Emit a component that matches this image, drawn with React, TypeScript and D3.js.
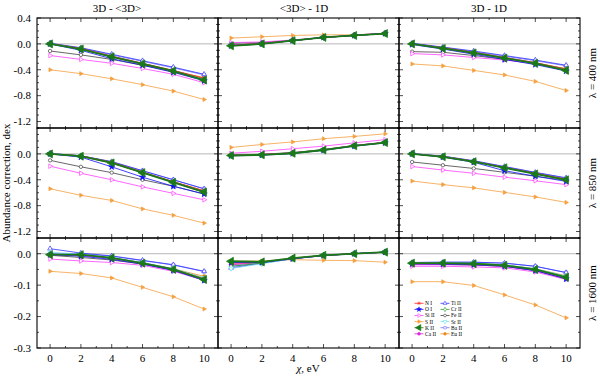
import React from 'react';
import * as d3 from 'd3';

const W = 600;
const H = 379;

// chi, eV
const chi = [0, 2, 4, 6, 8, 10];
const xTicks = [0, 2, 4, 6, 8, 10];
const colTitles = ['3D - <3D>', '<3D> - 1D', '3D - 1D'];
const rowLabels = ['λ = 400 nm', 'λ = 850 nm', 'λ = 1600 nm'];
const rowDomains = [[-1.3, 0.4], [-1.3, 0.4], [-0.3, 0.05]];
const rowTicks = [[0.4, 0, -0.4, -0.8, -1.2], [0, -0.4, -0.8, -1.2], [0, -0.1, -0.2, -0.3]];
const rowMinorStep = [0.1, 0.1, 0.05];

// corrections per species: 9 panels (row by row), 6 chi values each
const NI = [
  [0, -0.07, -0.19, -0.30, -0.41, -0.53], [-0.02, 0.01, 0.05, 0.1, 0.13, 0.16], [0, -0.06, -0.13, -0.21, -0.29, -0.39],
  [0, -0.03, -0.13, -0.28, -0.43, -0.57], [-0.02, -0.01, 0.015, 0.06, 0.125, 0.175], [0, -0.04, -0.115, -0.21, -0.3, -0.39],
  [-0.002, -0.004, -0.014, -0.03, -0.049, -0.08], [-0.03, -0.027, -0.015, -0.005, 0, 0.005], [-0.03, -0.031, -0.033, -0.038, -0.052, -0.078],
];
const OI = [
  [0, -0.1, -0.23, -0.33, -0.44, -0.57], [-0.03, 0, 0.05, 0.1, 0.13, 0.16], [-0.01, -0.08, -0.16, -0.24, -0.32, -0.42],
  [0, -0.05, -0.2, -0.36, -0.5, -0.62], [-0.03, -0.02, 0.005, 0.055, 0.12, 0.17], [0, -0.05, -0.13, -0.26, -0.345, -0.425],
  [-0.003, -0.008, -0.018, -0.033, -0.053, -0.085], [-0.028, -0.028, -0.016, -0.006, 0, 0.005], [-0.032, -0.033, -0.035, -0.04, -0.054, -0.08],
];
const SiII = [
  [-0.18, -0.24, -0.3, -0.38, -0.47, -0.6], [0.02, 0.03, 0.06, 0.1, 0.135, 0.165], [-0.15, -0.17, -0.21, -0.25, -0.3, -0.4],
  [-0.19, -0.3, -0.4, -0.51, -0.61, -0.71], [0.01, 0.04, 0.08, 0.12, 0.17, 0.22], [-0.195, -0.25, -0.3, -0.36, -0.415, -0.475],
  [-0.017, -0.023, -0.028, -0.037, -0.056, -0.084], [-0.035, -0.026, -0.016, -0.006, 0, 0.005], [-0.04, -0.04, -0.042, -0.045, -0.058, -0.082],
];
const SII = [
  [-0.4, -0.46, -0.54, -0.63, -0.73, -0.86], [0.09, 0.11, 0.13, 0.14, 0.14, 0.16], [-0.31, -0.34, -0.41, -0.48, -0.58, -0.72],
  [-0.54, -0.64, -0.72, -0.85, -0.95, -1.07], [0.1, 0.145, 0.185, 0.235, 0.27, 0.31], [-0.42, -0.475, -0.525, -0.595, -0.665, -0.75],
  [-0.056, -0.063, -0.077, -0.107, -0.137, -0.176], [-0.024, -0.023, -0.019, -0.021, -0.022, -0.027], [-0.089, -0.089, -0.101, -0.131, -0.163, -0.204],
];
const KII = [
  [0, -0.08, -0.2, -0.31, -0.42, -0.56], [-0.03, 0, 0.05, 0.1, 0.13, 0.16], [0, -0.07, -0.14, -0.22, -0.3, -0.41],
  [0, -0.035, -0.14, -0.29, -0.44, -0.59], [-0.025, -0.015, 0.01, 0.06, 0.125, 0.175], [0, -0.045, -0.12, -0.215, -0.31, -0.4],
  [-0.003, -0.003, -0.013, -0.03, -0.05, -0.082], [-0.024, -0.026, -0.014, -0.005, 0, 0.005], [-0.03, -0.03, -0.032, -0.037, -0.05, -0.075],
];
const CaII = [
  [0, -0.08, -0.2, -0.32, -0.43, -0.56], [-0.02, 0.005, 0.05, 0.1, 0.135, 0.165], [0, -0.07, -0.15, -0.22, -0.3, -0.41],
  [0, -0.04, -0.14, -0.29, -0.44, -0.59], [-0.02, -0.01, 0.015, 0.065, 0.13, 0.18], [0, -0.045, -0.12, -0.215, -0.31, -0.4],
  [-0.004, -0.006, -0.015, -0.032, -0.052, -0.083], [-0.03, -0.026, -0.015, -0.005, 0, 0.005], [-0.035, -0.035, -0.036, -0.04, -0.053, -0.078],
];
const TiII = [
  [0.01, -0.06, -0.16, -0.26, -0.36, -0.47], [-0.02, 0.005, 0.05, 0.1, 0.13, 0.16], [0.01, -0.05, -0.11, -0.18, -0.25, -0.33],
  [0.005, -0.03, -0.12, -0.26, -0.4, -0.54], [-0.025, -0.015, 0.01, 0.06, 0.125, 0.175], [0.005, -0.035, -0.105, -0.195, -0.285, -0.37],
  [0.016, 0.002, -0.007, -0.021, -0.035, -0.056], [-0.045, -0.03, -0.016, -0.005, 0, 0.005], [-0.028, -0.027, -0.027, -0.03, -0.04, -0.06],
];
const CrII = [
  [0, -0.07, -0.19, -0.3, -0.41, -0.54], [-0.03, 0, 0.05, 0.1, 0.13, 0.16], [0, -0.06, -0.13, -0.21, -0.29, -0.39],
  [0, -0.03, -0.13, -0.28, -0.43, -0.58], [-0.025, -0.015, 0.01, 0.06, 0.125, 0.175], [0, -0.04, -0.115, -0.21, -0.3, -0.39],
  [-0.002, -0.004, -0.013, -0.029, -0.048, -0.078], [-0.04, -0.03, -0.015, -0.005, 0, 0.005], [-0.03, -0.03, -0.031, -0.036, -0.049, -0.072],
];
const FeII = [
  [-0.11, -0.17, -0.24, -0.33, -0.43, -0.55], [0.01, 0.02, 0.055, 0.1, 0.13, 0.16], [-0.12, -0.13, -0.18, -0.24, -0.31, -0.41],
  [-0.1, -0.2, -0.29, -0.4, -0.5, -0.62], [-0.02, -0.005, 0.02, 0.065, 0.13, 0.175], [-0.125, -0.175, -0.225, -0.285, -0.345, -0.41],
  [-0.005, -0.012, -0.02, -0.033, -0.052, -0.085], [-0.035, -0.028, -0.016, -0.006, 0, 0.005], [-0.033, -0.034, -0.036, -0.04, -0.054, -0.08],
];
const SrII = [
  [0, -0.08, -0.2, -0.31, -0.42, -0.55], [-0.025, 0, 0.05, 0.1, 0.13, 0.16], [0, -0.07, -0.14, -0.22, -0.3, -0.4],
  [0, -0.035, -0.14, -0.29, -0.44, -0.58], [-0.025, -0.015, 0.01, 0.06, 0.125, 0.175], [0, -0.045, -0.12, -0.215, -0.31, -0.4],
  [0.005, -0.002, -0.012, -0.028, -0.047, -0.077], [-0.047, -0.032, -0.016, -0.005, 0, 0.005], [-0.03, -0.03, -0.031, -0.035, -0.048, -0.072],
];
const BaII = [
  [0.005, -0.065, -0.17, -0.27, -0.37, -0.48], [-0.02, 0.005, 0.05, 0.1, 0.13, 0.16], [0.005, -0.055, -0.12, -0.19, -0.26, -0.34],
  [0.005, -0.03, -0.12, -0.26, -0.4, -0.54], [-0.025, -0.015, 0.01, 0.06, 0.125, 0.175], [0.005, -0.035, -0.11, -0.2, -0.29, -0.375],
  [0, 0, -0.008, -0.022, -0.036, -0.057], [-0.04, -0.03, -0.016, -0.005, 0, 0.005], [-0.028, -0.027, -0.027, -0.03, -0.04, -0.06],
];
const EuII = [
  [0, -0.08, -0.2, -0.31, -0.42, -0.52], [-0.02, 0, 0.05, 0.1, 0.13, 0.16], [0, -0.07, -0.14, -0.22, -0.3, -0.38],
  [0, -0.035, -0.14, -0.29, -0.43, -0.57], [-0.025, -0.015, 0.01, 0.06, 0.125, 0.175], [0, -0.045, -0.12, -0.21, -0.3, -0.39],
  [-0.003, -0.004, -0.013, -0.029, -0.048, -0.072], [-0.025, -0.026, -0.014, -0.005, 0, 0.005], [-0.03, -0.03, -0.031, -0.035, -0.048, -0.07],
];

const names = ['N I', 'O I', 'Si II', 'S II', 'K II', 'Ca II', 'Ti II', 'Cr II', 'Fe II', 'Sr II', 'Ba II', 'Eu II'];
const values = [NI, OI, SiII, SII, KII, CaII, TiII, CrII, FeII, SrII, BaII, EuII];

// style per species (same order as names)
const styles = [
  { color: '#ff2020', sym: d3.symbolAsterisk, rot: 0, fill: false, size: 14, lw: 0.8 },
  { color: '#1010ff', sym: d3.symbolStar, rot: 0, fill: true, size: 12, lw: 0.8 },
  { color: '#ff40ff', sym: d3.symbolTriangle, rot: 90, fill: false, size: 9, lw: 0.8 },
  { color: '#f5a040', sym: d3.symbolTriangle, rot: 90, fill: true, size: 7, lw: 0.8 },
  { color: '#1a7a1a', sym: d3.symbolTriangle, rot: -90, fill: true, size: 28, lw: 1.8 },
  { color: '#e020e0', sym: d3.symbolCircle, rot: 0, fill: true, size: 9, lw: 0.8 },
  { color: '#3030ff', sym: d3.symbolTriangle, rot: 0, fill: false, size: 10, lw: 0.8 },
  { color: '#30a030', sym: d3.symbolDiamond, rot: 0, fill: false, size: 10, lw: 0.8 },
  { color: '#404040', sym: d3.symbolCircle, rot: 0, fill: false, size: 9, lw: 0.8 },
  { color: '#70e0e8', sym: d3.symbolTriangle, rot: 180, fill: false, size: 10, lw: 0.8 },
  { color: '#7070ff', sym: d3.symbolSquare, rot: 0, fill: false, size: 9, lw: 0.8 },
  { color: '#f08a20', sym: d3.symbolCircle, rot: 0, fill: true, size: 10, lw: 0.8 },
];
// draw order: K II on top
const drawOrder = [8, 2, 3, 11, 10, 6, 7, 9, 0, 5, 1, 4];

const colX = [37, 218, 399];
const rowY = [18, 128, 238];
const pw = 181;
const ph = 110;
const font = "'Liberation Serif', 'Times New Roman', serif";

const x = d3.scaleLinear().domain([-0.85, 10.9]).range([0, pw]);
const line = (ys: (v: number) => number) =>
  d3.line<number>().x((_, i) => x(chi[i])).y((v) => ys(v));

function Panel({ r, c }: { r: number; c: number }) {
  const y = d3.scaleLinear().domain(rowDomains[r]).range([ph, 0]);
  const minorY = d3.range(rowDomains[r][0], rowDomains[r][1] + 1e-9, rowMinorStep[r]);
  const minorX = d3.range(0, 11, 1);
  const gen = line(y);
  return (
    <g transform={`translate(${colX[c]},${rowY[r]})`}>
      <line x1={0} x2={pw} y1={y(0)} y2={y(0)} stroke="#b0b0b0" strokeWidth={0.9} />
      {drawOrder.map((s) => {
        const st = styles[s];
        const d = values[s][r * 3 + c];
        const sym = d3.symbol().type(st.sym).size(st.size)();
        return (
          <g key={s}>
            <path d={gen(d) || ''} fill="none" stroke={st.color} strokeWidth={st.lw} />
            {d.map((v, i) => (
              <path key={i} d={sym || ''}
                transform={`translate(${x(chi[i])},${y(v)}) rotate(${st.rot})`}
                fill={st.fill ? st.color : 'white'} stroke={st.color} strokeWidth={0.7} />
            ))}
          </g>
        );
      })}
      {/* ticks */}
      {minorX.map((t) => {
        const major = t % 2 === 0;
        const l = major ? 4 : 2;
        return (
          <g key={'x' + t} stroke="black" strokeWidth={0.7}>
            <line x1={x(t)} x2={x(t)} y1={ph} y2={ph - l} />
            <line x1={x(t)} x2={x(t)} y1={0} y2={l} />
          </g>
        );
      })}
      {minorY.map((t, i) => {
        const major = rowTicks[r].some((m) => Math.abs(m - t) < 1e-6);
        const l = major ? 4 : 2;
        return (
          <g key={'y' + i} stroke="black" strokeWidth={0.7}>
            <line x1={0} x2={l} y1={y(t)} y2={y(t)} />
            <line x1={pw} x2={pw - l} y1={y(t)} y2={y(t)} />
          </g>
        );
      })}
      {c === 0 && rowTicks[r].map((t) => (
        <text key={'yl' + t} x={-6} y={y(t)} dy="0.35em" textAnchor="end" fontSize={11} fontFamily={font}>
          {t.toFixed(1)}
        </text>
      ))}
      {r === 2 && xTicks.map((t) => (
        <text key={'xl' + t} x={x(t)} y={ph + 14} textAnchor="middle" fontSize={11} fontFamily={font}>
          {t}
        </text>
      ))}
      <rect x={0} y={0} width={pw} height={ph} fill="none" stroke="black" strokeWidth={1.1} />
    </g>
  );
}

function Legend() {
  const x0 = colX[2];
  const y0 = rowY[2];
  return (
    <g>
      {names.map((n, i) => {
        const col = Math.floor(i / 6);
        const row = i % 6;
        const st = styles[i];
        const mx = x0 + 20 + col * 26;
        const my = y0 + 65.3 + row * 6.1;
        const sym = d3.symbol().type(st.sym).size(Math.max(st.size * 0.6, 6))();
        return (
          <g key={n}>
            <line x1={mx - 4.5} x2={mx + 4.5} y1={my} y2={my} stroke={st.color} strokeWidth={0.8} />
            <path d={sym || ''} transform={`translate(${mx},${my}) rotate(${st.rot})`}
              fill={st.fill ? st.color : 'white'} stroke={st.color} strokeWidth={0.6} />
            <text x={mx + 6} y={my} dy="0.35em" fontSize={5.5} fontFamily={font}>{n}</text>
          </g>
        );
      })}
    </g>
  );
}

export default function App() {
  const panels = [];
  for (let r = 0; r < 3; r++) for (let c = 0; c < 3; c++) panels.push(<Panel key={`${r}-${c}`} r={r} c={c} />);
  const titleX = [117, 304, 489];
  return (
    <svg width={W} height={H} viewBox={`0 0 ${W} ${H}`}
      style={{ position: 'absolute', left: 0, top: 0, background: 'white' }}>
      {panels}
      <Legend />
      {colTitles.map((t, i) => (
        <text key={t} x={titleX[i]} y={12} textAnchor="middle" fontSize={11} fontFamily={font}>{t}</text>
      ))}
      {rowLabels.map((t, i) => (
        <text key={t} transform={`translate(596,${rowY[i] + ph / 2}) rotate(-90)`} textAnchor="middle"
          fontSize={11} fontFamily={font}>{t}</text>
      ))}
      <text transform="translate(10,183) rotate(-90)" textAnchor="middle" fontSize={11} fontFamily={font}>
        Abundance correction, dex
      </text>
      <text x={308} y={372} textAnchor="middle" fontSize={11} fontFamily={font}>
        <tspan fontStyle="italic">χ</tspan>, eV
      </text>
    </svg>
  );
}
